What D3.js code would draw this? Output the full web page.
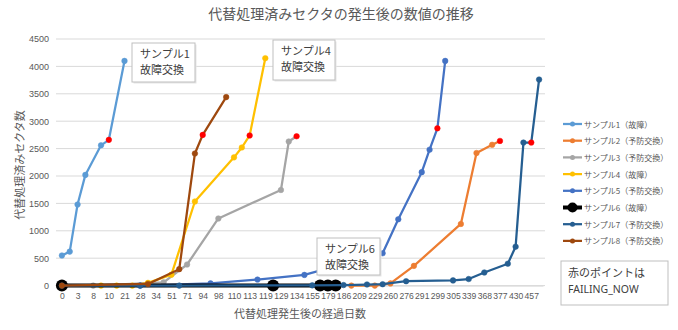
<!DOCTYPE html>
<html><head><meta charset="utf-8">
<script src="https://cdn.jsdelivr.net/npm/d3@7"></script>
<style>
body{margin:0;background:#fff;}
text{font-family:"Noto Sans CJK JP","Noto Sans",sans-serif;}
</style></head>
<body><svg id="c" width="678" height="330"></svg>
<script>
const days = ["0","1","3","6","8","9","10","14","21","24","28","31","34","43","51","61","71","84","94","96","98","105","110","112","113","116","119","124","129","131","134","145","155","176","179","182","186","198","209","220","229","245","260","267","276","284","291","295","299","302","305","320","339","350","368","372","377","400","430","440","457","470"];
const yTicks = [0,500,1000,1500,2000,2500,3000,3500,4000,4500];
const seriesNames = ["サンプル1（故障）","サンプル2（予防交換）","サンプル3（予防交換）","サンプル4（故障）","サンプル5（予防交換）","サンプル6（故障）","サンプル7（予防交換）","サンプル8（予防交換）"];
const seriesColors = ["#5B9BD5","#ED7D31","#A5A5A5","#FFC000","#4472C4","#000000","#255E91","#9E480E"];
const s1 = [["0",550],["1",620],["3",1480],["6",2020],["9",2560],["10",2660],["21",4100]];
const s2 = [["198",0],["229",0],["260",40],["284",360],["320",1125],["350",2420],["372",2570],["377",2640]];
const s3 = [["8",0],["43",60],["71",385],["98",1225],["129",1745],["131",2630],["134",2725]];
const s4 = [["9",0],["14",0],["24",0],["31",50],["51",200],["84",1535],["110",2340],["112",2520],["113",2740],["119",4150]];
const s5 = [["28",0],["96",40],["116",110],["145",195],["245",590],["267",1210],["291",2070],["295",2480],["299",2870],["302",4100]];
const s6 = [["0",0],["124",0],["176",0],["179",0],["182",0]];
const s7 = [["0",0],["28",0],["61",0],["155",5],["186",10],["220",20],["245",25],["276",80],["305",95],["339",120],["368",240],["400",400],["430",710],["440",2610],["457",2610],["470",3760]];
const s8 = [["0",0],["31",30],["61",300],["84",2410],["94",2750],["105",3440]];
const failingDays = ["10","377","134","113","299",null,"457","94"];
const allSeries = [s1,s2,s3,s4,s5,s6,s7,s8];
const notes = [["サンプル1","故障交換"],["サンプル4","故障交換"],["サンプル6","故障交換"]];

const svg = d3.select("#c");
const x = d3.scalePoint().domain(days).range([58,543]).padding(0.5);
const y = d3.scaleLinear().domain([0,4500]).range([285.6,39]);

// title
svg.append("text").attr("x",341).attr("y",19).attr("text-anchor","middle")
  .attr("font-size",14).attr("fill","#595959").text("代替処理済みセクタの発生後の数値の推移");

// gridlines
svg.append("g").selectAll("line").data(yTicks).join("line")
  .attr("x1",56).attr("x2",545).attr("y1",d=>y(d)).attr("y2",d=>y(d))
  .attr("stroke","#d9d9d9").attr("stroke-width",1);

// y axis labels
const ya = svg.append("g").attr("transform","translate(49,0)")
  .call(d3.axisLeft(y).tickValues(yTicks).tickSize(0).tickPadding(0).tickFormat(d3.format("d")));
ya.select(".domain").remove();
ya.selectAll("text").attr("font-size",9).attr("fill","#595959").style("font-family","'Liberation Sans',Arial,sans-serif");

// x axis
const xa = svg.append("g").attr("transform","translate(0,285.6)")
  .call(d3.axisBottom(x).tickValues(days.filter((d,i)=>i%2===0)).tickSize(0).tickPadding(7));
xa.select(".domain").attr("stroke","#d9d9d9");
xa.selectAll("text").attr("font-size",8.6).attr("fill","#595959").style("font-family","'Liberation Sans',Arial,sans-serif");

// axis titles
svg.append("text").attr("x",300).attr("y",318).attr("text-anchor","middle")
  .attr("font-size",11).attr("fill","#595959").text("代替処理発生後の経過日数");
svg.append("text").attr("transform","translate(24,165) rotate(-90)").attr("text-anchor","middle")
  .attr("font-size",11).attr("fill","#595959").text("代替処理済みセクタ数");

// series
const line = d3.line().x(d=>x(d[0])).y(d=>y(d[1]));
allSeries.forEach((s,i)=>{
  const g = svg.append("g");
  const thick = i===5;
  g.append("path").datum(s).attr("d",line).attr("fill","none")
    .attr("stroke",seriesColors[i]).attr("stroke-width",thick?4:2.25).attr("stroke-linejoin","round");
  g.selectAll("circle").data(s).join("circle")
    .attr("cx",d=>x(d[0])).attr("cy",d=>y(d[1])).attr("r",thick?6:2.8)
    .attr("fill",d=>d[0]===failingDays[i]?"#FF0000":seriesColors[i])
    .attr("stroke",d=>d[0]===failingDays[i]?"#FF0000":seriesColors[i]).attr("stroke-width",thick?0:0.5);
});

// annotation callouts
const noteBoxes = [[132,43,63,39],[273,40,62,40],[317,238,63,37]];
noteBoxes.forEach((b,i)=>{
  const g = svg.append("g");
  g.append("rect").attr("x",b[0]+1.5).attr("y",b[1]+1.5).attr("width",b[2]).attr("height",b[3]).attr("fill","#e6e6e6");
  g.append("rect").attr("x",b[0]).attr("y",b[1]).attr("width",b[2]).attr("height",b[3])
    .attr("fill","#fff").attr("stroke","#bfbfbf").attr("stroke-width",1);
  notes[i].forEach((t,j)=>{
    g.append("text").attr("x",b[0]+8).attr("y",b[1]+15+j*16)
      .attr("font-size",11).attr("fill","#404040").text(t);
  });
});

// legend
const lg = svg.append("g");
seriesNames.forEach((n,i)=>{
  const yy = 124 + i*16.7;
  const thick = i===5;
  lg.append("line").attr("x1",563).attr("x2",582).attr("y1",yy).attr("y2",yy)
    .attr("stroke",seriesColors[i]).attr("stroke-width",thick?4:2.25);
  lg.append("circle").attr("cx",572.5).attr("cy",yy).attr("r",thick?5:2.5).attr("fill",seriesColors[i]);
  lg.append("text").attr("x",584).attr("y",yy+3.5).attr("font-size",8).attr("fill","#595959").text(n);
});

// failing note box
svg.append("rect").attr("x",561).attr("y",261).attr("width",107).attr("height",44)
  .attr("fill","#fff").attr("stroke","#bfbfbf");
svg.append("text").attr("x",568).attr("y",277).attr("font-size",11).attr("fill","#404040").text("赤のポイントは");
svg.append("text").attr("x",568).attr("y",293).attr("font-size",10.5).attr("fill","#404040").style("font-family","'Noto Sans',sans-serif").text("FAILING_NOW");
</script></body></html>
